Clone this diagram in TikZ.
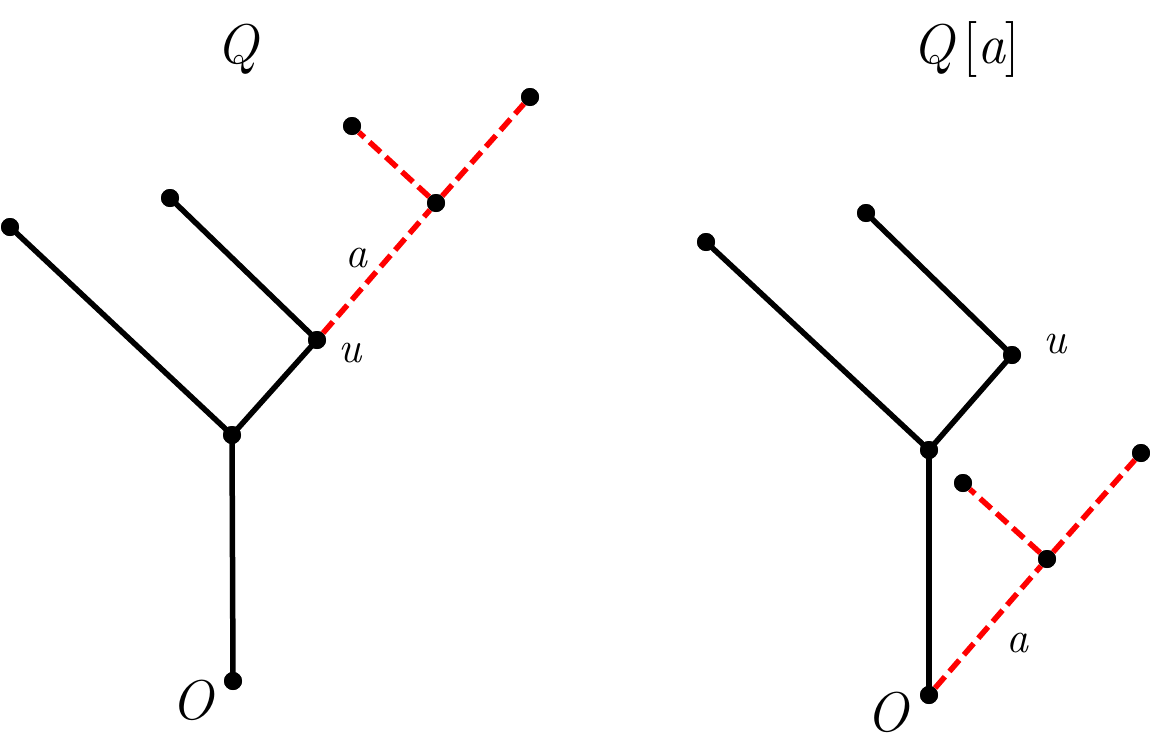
\documentclass[tikz,border=0pt]{standalone}
\usepackage{tikz}
\begin{document}
\begin{tikzpicture}[x=1pt,y=-1pt,
  dot/.style={circle,fill=black,inner sep=0pt,minimum size=18pt},
  edge/.style={line width=5.5pt,black},
  redge/.style={line width=5.5pt,red,dash pattern=on 15pt off 7pt},
  biglab/.style={anchor=base,inner sep=0pt,font=\fontsize{56}{60}\selectfont\itshape},
  smalllab/.style={anchor=base,inner sep=0pt,font=\fontsize{44}{48}\selectfont\itshape}]
\useasboundingbox (0,0) rectangle (1150,755);
% left tree
\node[dot] (lO) at (233,681) {};
\node[dot] (lJ) at (232,435) {};
\node[dot] (lL1) at (10,227) {};
\node[dot] (lU) at (317,340) {};
\node[dot] (lL2) at (170,198) {};
\node[dot] (lM) at (436,203) {};
\node[dot] (lR1) at (530,97) {};
\node[dot] (lR2) at (352,126) {};
\draw[edge] (lO.center) -- (lJ.center);
\draw[edge] (lJ.center) -- (lL1.center);
\draw[edge] (lJ.center) -- (lU.center);
\draw[edge] (lU.center) -- (lL2.center);
\draw[redge] (lU) -- (lM);
\draw[redge] (lM) -- (lR1);
\draw[redge] (lM) -- (lR2);
\foreach \n in {lO,lJ,lL1,lU,lL2,lM,lR1,lR2} \node[dot] at (\n) {};
\node[biglab] (lQt) at (237,63) {Q};
\node[smalllab] (lat) at (356,267) {a};
\node[smalllab] (lut) at (350,362) {u};
\node[biglab] (lOt) at (192,719) {O};
% right tree
\node[dot] (rO) at (929,695) {};
\node[dot] (rJ) at (929,450) {};
\node[dot] (rL1) at (706,242) {};
\node[dot] (rU) at (1012,355) {};
\node[dot] (rL2) at (866,213) {};
\node[dot] (rM) at (1047,559) {};
\node[dot] (rR1) at (1141,453) {};
\node[dot] (rR2) at (963,483) {};
\draw[edge] (rO.center) -- (rJ.center);
\draw[edge] (rJ.center) -- (rL1.center);
\draw[edge] (rJ.center) -- (rU.center);
\draw[edge] (rU.center) -- (rL2.center);
\draw[redge] (rO) -- (rM);
\draw[redge] (rM) -- (rR1);
\draw[redge] (rM) -- (rR2);
\foreach \n in {rO,rJ,rL1,rU,rL2,rM,rR1,rR2} \node[dot] at (\n) {};
\node[biglab] (rQt) at (966,63) {Q\,{\upshape[}a{\upshape]}};
\node[smalllab] (rat) at (1017,652) {a};
\node[smalllab] (rut) at (1055,353) {u};
\node[biglab] (rOt) at (887,731) {O};
\end{tikzpicture}
\end{document}
